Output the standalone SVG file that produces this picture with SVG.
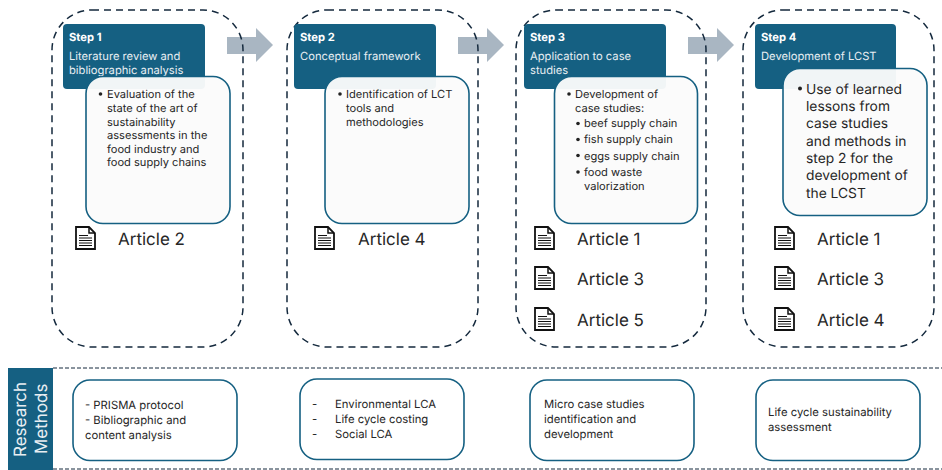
<svg xmlns="http://www.w3.org/2000/svg" width="942" height="470" viewBox="0 0 942 470">
<style>
text{font-family:Inter,"Noto Sans",sans-serif;fill:#262626;text-rendering:geometricPrecision}
.dash{fill:none;stroke:#14293d;stroke-width:1.5;stroke-dasharray:7 5}
.head{fill:#156082}
.panel{fill:#fbfbfb;fill-opacity:.96;stroke:#156082;stroke-width:1.6}
.method{fill:#fff;stroke:#156082;stroke-width:1.6}
.t{font-size:11.200px;fill:#e8eef2}
.b{font-size:11.200px;font-weight:700;fill:#fff}
.p{font-size:11.100px}
.p4{font-size:13.800px}
.m{font-size:11.300px}
.a{font-size:17px}
.arrow{fill:#a9b6c2}
.rule{stroke:#14293d;stroke-width:1;stroke-dasharray:4 2;fill:none}
.r{font-size:17px;fill:#e8eef2}
</style>
<defs>
<g id="doc">
<path d="M1 1H14L20 7V23H1Z" fill="#fff" stroke="#111" stroke-width="1.8"/>
<path d="M14 1V7H20" fill="none" stroke="#111" stroke-width="1.5"/>
<path d="M4 9.500H13M4 12H17M4 14.500H17M4 17H17M4 19.500H17" stroke="#111" stroke-width="1"/>
</g>
</defs>
<g id="connectors">
<path class="arrow" d="M227 37H256V28L273 45L256 62V54H227Z"/>
<path class="arrow" d="M458 37H487V28L504 45L487 62V54H458Z"/>
<path class="arrow" d="M688 37H717V28L734 45L717 62V54H688Z"/>
</g>
<g id="step1">
<rect class="dash" x="52" y="10" width="191" height="337" rx="40"/>
<rect class="head" x="63" y="24" width="142" height="65" rx="4"/>
<text class="b" x="69" y="41">Step 1</text>
<text class="t" x="69" y="60">Literature review and</text>
<text class="t" x="69" y="73.500">bibliographic analysis</text>
<rect class="panel" x="86" y="76.500" width="144" height="147" rx="17"/>
<circle cx="100.500" cy="94" r="1.800" fill="#222"/>
<text class="p" x="107" y="98">Evaluation of the</text>
<text class="p" x="107" y="112">state of the art of</text>
<text class="p" x="107" y="125.500">sustainability</text>
<text class="p" x="107" y="139">assessments in the</text>
<text class="p" x="107" y="152.500">food industry and</text>
<text class="p" x="107" y="166">food supply chains</text>
<use href="#doc" x="75" y="226"/>
<text class="a" x="118" y="245">Article 2</text>
</g>
<g id="step2">
<rect class="dash" x="287" y="10" width="191" height="337" rx="40"/>
<rect class="head" x="294" y="24" width="142" height="65" rx="4"/>
<text class="b" x="300" y="41">Step 2</text>
<text class="t" x="300" y="60">Conceptual framework</text>
<rect class="panel" x="325" y="76.500" width="144" height="147" rx="17"/>
<circle cx="340" cy="94" r="1.800" fill="#222"/>
<text class="p" x="346" y="98">Identification of LCT</text>
<text class="p" x="346" y="112">tools and</text>
<text class="p" x="346" y="125.500">methodologies</text>
<use href="#doc" x="314" y="226"/>
<text class="a" x="358" y="245">Article 4</text>
</g>
<g id="step3">
<rect class="dash" x="516" y="10" width="190" height="337" rx="40"/>
<rect class="head" x="524" y="24" width="142" height="65" rx="4"/>
<text class="b" x="530" y="41">Step 3</text>
<text class="t" x="530" y="60">Application to case</text>
<text class="t" x="530" y="73.500">studies</text>
<rect class="panel" x="554.500" y="76.500" width="143" height="147" rx="17"/>
<circle cx="569" cy="94" r="1.800" fill="#222"/>
<text class="p" x="575" y="98">Development of</text>
<text class="p" x="575" y="112">case studies:</text>
<circle cx="578" cy="123.500" r="1.800" fill="#222"/>
<text class="p" x="584" y="127">beef supply chain</text>
<circle cx="578" cy="139.500" r="1.800" fill="#222"/>
<text class="p" x="584" y="143">fish supply chain</text>
<circle cx="578" cy="155.500" r="1.800" fill="#222"/>
<text class="p" x="584" y="160">eggs supply chain</text>
<circle cx="578" cy="172" r="1.800" fill="#222"/>
<text class="p" x="584" y="176">food waste</text>
<text class="p" x="584" y="190">valorization</text>
<use href="#doc" x="534" y="226"/>
<text class="a" x="577" y="245">Article 1</text>
<use href="#doc" x="534" y="266"/>
<text class="a" x="577" y="285">Article 3</text>
<use href="#doc" x="534" y="307"/>
<text class="a" x="577" y="326">Article 5</text>
</g>
<g id="step4">
<rect class="dash" x="743" y="10" width="191" height="337" rx="40"/>
<rect class="head" x="755" y="24" width="141" height="65" rx="4"/>
<text class="b" x="761" y="41">Step 4</text>
<text class="t" x="761" y="60">Development of LCST</text>
<rect class="panel" x="783" y="68.500" width="144" height="147" rx="17"/>
<circle cx="800" cy="88.500" r="2" fill="#222"/>
<text class="p4" x="806" y="94">Use of learned</text>
<text class="p4" x="806" y="111">lessons from</text>
<text class="p4" x="806" y="128">case studies</text>
<text class="p4" x="806" y="146">and methods in</text>
<text class="p4" x="806" y="163">step 2 for the</text>
<text class="p4" x="806" y="180">development of</text>
<text class="p4" x="806" y="198">the LCST</text>
<use href="#doc" x="774" y="226"/>
<text class="a" x="817" y="245">Article 1</text>
<use href="#doc" x="774" y="266"/>
<text class="a" x="817" y="285">Article 3</text>
<use href="#doc" x="774" y="307"/>
<text class="a" x="817" y="326">Article 4</text>
</g>
<g id="research-methods">
<path class="rule" d="M53 368H942M53 469H942"/>
<rect class="head" x="8" y="368" width="45" height="102"/>
<text class="r" transform="translate(26 457) rotate(-90)">Research</text>
<text class="r" transform="translate(47 454) rotate(-90)">Methods</text>
</g>
<g id="method1">
<rect class="method" x="73" y="380" width="164" height="80.500" rx="17"/>
<text class="m" x="85" y="409">- PRISMA protocol</text>
<text class="m" x="85" y="424">- Bibliographic and</text>
<text class="m" x="85" y="439">content analysis</text>
</g>
<g id="method2">
<rect class="method" x="300" y="379" width="164" height="80.500" rx="17"/>
<text class="m" x="312" y="408">-</text><text class="m" x="335" y="408">Environmental LCA</text>
<text class="m" x="312" y="423">-</text><text class="m" x="335" y="423">Life cycle costing</text>
<text class="m" x="312" y="438">-</text><text class="m" x="335" y="438">Social LCA</text>
</g>
<g id="method3">
<rect class="method" x="530" y="380" width="164" height="80.500" rx="17"/>
<text class="m" x="544" y="408">Micro case studies</text>
<text class="m" x="544" y="423">identification and</text>
<text class="m" x="544" y="438">development</text>
</g>
<g id="method4">
<rect class="method" x="756" y="380" width="164" height="80.500" rx="17"/>
<text class="m" x="768" y="416">Life cycle sustainability</text>
<text class="m" x="768" y="431">assessment</text>
</g>
</svg>
